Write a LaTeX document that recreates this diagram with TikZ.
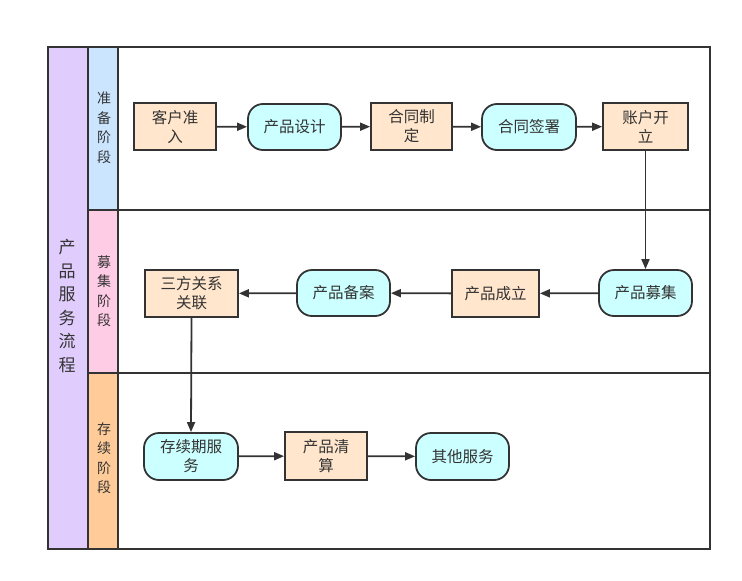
\documentclass[tikz,border=0pt]{standalone}
\usepackage{fontspec}
\setmainfont{Noto Sans CJK SC}
\usetikzlibrary{arrows.meta}
\definecolor{lineC}{HTML}{333333}
\definecolor{purpleC}{HTML}{E1CDFD}
\definecolor{blueC}{HTML}{CCE5FF}
\definecolor{pinkC}{HTML}{FFCCE6}
\definecolor{orangeC}{HTML}{FFCC99}
\definecolor{rectC}{HTML}{FFE6CC}
\definecolor{roundC}{HTML}{CCFFFF}
\begin{document}
\begin{tikzpicture}[x=1pt,y=-1pt,
  lane/.style={draw=lineC,line width=1.8pt},
  procbox/.style={draw=lineC,line width=1.8pt,fill=rectC,inner sep=0pt,align=center,font=\fontsize{15.5}{19}\selectfont,text=lineC},
  termbox/.style={draw=lineC,line width=1.8pt,fill=roundC,rounded corners=15pt,inner sep=0pt,align=center,font=\fontsize{15.5}{19}\selectfont,text=lineC},
  lbl/.style={align=center,font=\fontsize{14}{19.5}\selectfont,text=lineC},
  conn/.style={draw=lineC,line width=1.8pt,-{Triangle[length=10pt,width=8pt]}}
]
\useasboundingbox (0,0) rectangle (742,581);
\fill[white] (0,0) rectangle (742,581);
% columns
\filldraw[lane,fill=purpleC] (48,47) rectangle (88,549);
\filldraw[lane,fill=blueC] (88,47) rectangle (118,210);
\filldraw[lane,fill=pinkC] (88,210) rectangle (118,373);
\filldraw[lane,fill=orangeC] (88,373) rectangle (118,549);
\draw[lane] (118,47) rectangle (710,210);
\draw[lane] (118,210) rectangle (710,373);
\draw[lane] (118,373) rectangle (710,549);
% labels
\node[align=center,font=\fontsize{17}{23.5}\selectfont,text=lineC] (title) at (67,306) {产\\品\\服\\务\\流\\程};
\node[lbl] (l1) at (104,128) {准\\备\\阶\\段};
\node[lbl] (l2) at (104,291) {募\\集\\阶\\段};
\node[lbl] (l3) at (104,458) {存\\续\\阶\\段};
% row 1
\node[procbox,minimum width=82pt,minimum height=47pt] (a1) at (175,126.5) {客户准\\入};
\node[termbox,minimum width=93pt,minimum height=46pt] (a2) at (294.5,127) {产品设计};
\node[procbox,minimum width=81pt,minimum height=47pt] (a3) at (411.5,126.5) {合同制\\定};
\node[termbox,minimum width=94pt,minimum height=46pt] (a4) at (529,127) {合同签署};
\node[procbox,minimum width=85pt,minimum height=47pt] (a5) at (645.5,126.5) {账户开\\立};
% row 2
\node[termbox,minimum width=93pt,minimum height=46pt] (b1) at (645.5,293) {产品募集};
\node[procbox,minimum width=87pt,minimum height=47pt] (b2) at (495.5,293.5) {产品成立};
\node[termbox,minimum width=93pt,minimum height=46pt] (b3) at (343.5,293) {产品备案};
\node[procbox,minimum width=93pt,minimum height=47pt] (b4) at (191.5,293.5) {三方关系\\关联};
% row 3
\node[termbox,minimum width=94pt,minimum height=47pt] (c1) at (191,456.5) {存续期服\\务};
\node[procbox,minimum width=82pt,minimum height=48pt] (c2) at (326,456) {产品清\\算};
\node[termbox,minimum width=93pt,minimum height=47pt] (c3) at (462.5,456.5) {其他服务};
% connectors
\draw[conn] (a1) -- (a2);
\draw[conn] (a2) -- (a3);
\draw[conn] (a3) -- (a4);
\draw[conn] (a4) -- (a5);
\draw[conn] (a5) -- (b1);
\draw[conn] (b1) -- (b2);
\draw[conn] (b2) -- (b3);
\draw[conn] (b3) -- (b4);
\draw[conn] (b4.south) -- (c1.north);
\draw[conn] (c1) -- (c2);
\draw[conn] (c2) -- (c3);
\end{tikzpicture}
\end{document}
